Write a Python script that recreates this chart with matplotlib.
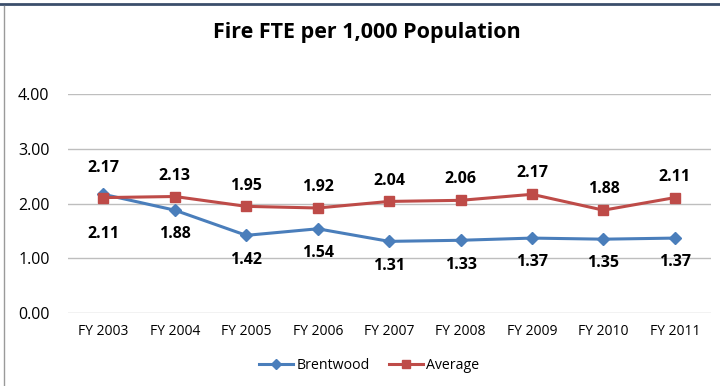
import matplotlib.pyplot as plt
from matplotlib.lines import Line2D

years = ["FY 2003", "FY 2004", "FY 2005", "FY 2006", "FY 2007",
         "FY 2008", "FY 2009", "FY 2010", "FY 2011"]
brentwood = [2.17, 1.88, 1.42, 1.54, 1.31, 1.33, 1.37, 1.35, 1.37]
average = [2.11, 2.13, 1.95, 1.92, 2.04, 2.06, 2.17, 1.88, 2.11]

plt.rcParams['font.family'] = ['Open Sans', 'DejaVu Sans']

fig = plt.figure(figsize=(7.2, 3.86), dpi=100)
ax = fig.add_axes([0.094, 0.189, 0.893, 0.567])

x = list(range(len(years)))
blue = "#4A7EBB"
red = "#BE4B48"
ax.plot(x, brentwood, color=blue, lw=2.2, marker="D", ms=6, label="Brentwood", zorder=3)
ax.plot(x, average, color=red, lw=2.2, marker="s", ms=7, label="Average", zorder=4)

# data labels: first year has brentwood on top, rest below
for i in x:
    b_up = brentwood[i] > average[i]
    ax.annotate("{:.2f}".format(brentwood[i]), (i, brentwood[i]),
                xytext=(0, 19 if b_up else -17.5), textcoords="offset points",
                ha="center", va="center", fontsize=11.5, fontweight="bold")
    ax.annotate("{:.2f}".format(average[i]), (i, average[i]),
                xytext=(0, -26 if b_up else 15), textcoords="offset points",
                ha="center", va="center", fontsize=11.5, fontweight="bold")

ax.set_xlim(-0.5, len(years) - 0.5)
ax.set_ylim(0, 4)
ax.set_yticks([0, 1, 2, 3, 4])
ax.set_yticklabels(["{:.2f}".format(v) for v in [0, 1, 2, 3, 4]], fontsize=11.5)
ax.set_xticks(x)
ax.set_xticklabels(years, fontsize=10)
ax.tick_params(length=0, pad=8)
ax.tick_params(axis="y", pad=13)
ax.grid(axis="y", color="#BEBEBE", lw=1)
ax.set_axisbelow(True)
for s in ax.spines.values():
    s.set_visible(False)

fig.text(0.51, 0.917, "Fire FTE per 1,000 Population", ha="center", va="center",
         fontsize=15.5, fontweight="bold")

handles = [Line2D([], [], color=blue, lw=2.2, marker="D", ms=5),
           Line2D([], [], color=red, lw=2.2, marker="s", ms=6)]
fig.legend(handles, ["Brentwood", "Average"], loc="center", bbox_to_anchor=(0.513, 0.052),
           ncol=2, frameon=False, fontsize=10.2, handlelength=2.4, columnspacing=1.4,
           handletextpad=0.2)

# chart frame lines
fig.add_artist(Line2D([0, 1], [0.989, 0.989], color="#3B4E6B", lw=2, transform=fig.transFigure))
fig.add_artist(Line2D([0.005, 0.005], [0, 0.985], color="#9A9A9A", lw=1, transform=fig.transFigure))

fig.savefig("out.png", dpi=100)
